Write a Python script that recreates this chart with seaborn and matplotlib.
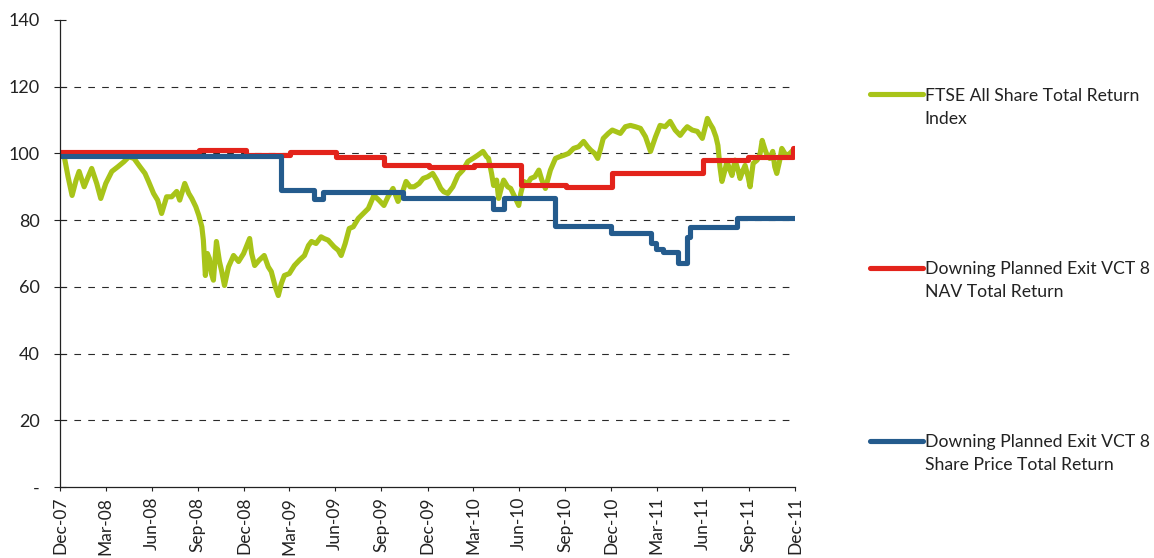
import numpy as np
import pandas as pd
import matplotlib
matplotlib.use("Agg")
import matplotlib.pyplot as plt
import matplotlib.dates as mdates
from matplotlib.lines import Line2D
from matplotlib.legend_handler import HandlerLine2D
import seaborn as sns

# days are counted from 31 Dec 2007 (rebased to 100)
START = pd.Timestamp("2007-12-31")

ftse_day = [
    0, 8, 16, 24, 32, 38, 48, 56, 63, 73,
    81, 91, 103, 115, 127, 137, 147, 159, 169, 176,
    186, 194, 202, 212, 222, 232, 238, 248, 256, 262,
    270, 276, 282, 285, 289, 293, 297, 301, 305, 311,
    317, 321, 327, 335, 345, 355, 365, 373, 377, 381,
    387, 396, 406, 414, 420, 428, 434, 440, 446, 456,
    466, 476, 486, 494, 500, 509, 519, 525, 533, 545,
    553, 559, 567, 575, 583, 593, 603, 613, 624, 634,
    644, 652, 662, 672, 680, 688, 696, 704, 714, 722,
    731, 741, 749, 757, 763, 771, 781, 791, 801, 811,
    821, 831, 841, 848, 852, 858, 862, 868, 872, 878,
    882, 890, 896, 904, 912, 916, 922, 930, 936, 944,
    952, 958, 965, 975, 985, 993, 1001, 1011, 1021, 1031,
    1041, 1049, 1055, 1063, 1069, 1074, 1080, 1090, 1098, 1106,
    1114, 1124, 1134, 1144, 1154, 1164, 1174, 1184, 1193, 1203,
    1213, 1223, 1233, 1241, 1247, 1257, 1267, 1277, 1283, 1287,
    1292, 1298, 1304, 1308, 1312, 1316, 1322, 1326, 1332, 1336,
    1342, 1348, 1352, 1358, 1362, 1368, 1372, 1378, 1386, 1392,
    1396, 1402, 1406, 1411, 1417, 1421, 1425, 1431, 1435, 1441,
    1445, 1451, 1457,
]
ftse_val = [
    99.8, 99.4, 93.0, 87.4, 92.0, 94.6, 90.0, 93.0, 95.5, 91.0,
    86.5, 91.0, 94.6, 96.0, 97.5, 99.0, 98.5, 96.0, 94.0, 91.6,
    88.0, 86.0, 82.0, 87.0, 87.0, 88.6, 86.0, 91.0, 88.0, 86.5,
    84.0, 81.4, 78.0, 74.0, 63.4, 70.0, 68.5, 64.0, 62.0, 73.6,
    67.6, 65.0, 60.4, 66.0, 69.4, 67.6, 70.0, 73.0, 74.5, 70.0,
    66.4, 68.0, 69.4, 66.0, 64.6, 60.0, 57.4, 61.0, 63.4, 64.0,
    66.4, 68.0, 69.4, 72.4, 73.6, 73.0, 75.0, 74.5, 74.0, 72.0,
    71.0, 69.4, 73.0, 77.5, 78.0, 80.5, 82.0, 83.5, 87.4, 86.0,
    84.4, 87.0, 89.5, 85.6, 88.0, 91.6, 90.0, 90.0, 91.0, 92.5,
    93.0, 94.0, 92.0, 89.5, 88.5, 88.0, 90.0, 93.4, 95.0, 97.6,
    98.5, 99.5, 100.6, 99.0, 98.5, 94.0, 90.4, 92.0, 86.5, 90.0,
    92.0, 90.0, 89.5, 87.0, 84.4, 88.0, 91.6, 91.0, 92.5, 93.0,
    95.0, 92.0, 89.5, 95.0, 98.5, 99.0, 99.4, 100.0, 101.5, 102.0,
    103.6, 102.0, 101.0, 100.0, 98.5, 101.0, 104.5, 106.0, 107.0, 106.5,
    106.0, 108.0, 108.4, 108.0, 107.5, 105.0, 100.6, 105.0, 108.4, 108.0,
    109.6, 107.0, 105.4, 107.0, 108.0, 107.0, 106.6, 104.5, 108.0, 110.5,
    109.0, 107.5, 105.0, 102.4, 96.0, 91.6, 95.0, 97.6, 95.0, 93.4,
    98.0, 95.0, 92.5, 95.0, 96.4, 93.0, 90.0, 97.0, 98.0, 100.0,
    103.9, 101.0, 99.4, 98.5, 100.6, 96.0, 94.0, 98.0, 101.5, 100.0,
    99.4, 100.0, 100.9,
]

nav_day = [0, 276, 370, 458, 549, 644, 733, 823, 916, 1005, 1098, 1279, 1368, 1458, 1461]
nav_val = [100.3, 101.0, 99.4, 100.4, 98.8, 96.6, 96.0, 96.6, 90.4, 89.9, 94.0, 97.9, 98.8, 101.5, 101.5]

price_day = [0, 440, 504, 523, 682, 860, 882, 985, 1096, 1174, 1184, 1199, 1229, 1247, 1253, 1346, 1461]
price_val = [99.3, 88.9, 86.3, 88.4, 86.5, 83.4, 86.5, 78.2, 76.1, 73.0, 71.4, 70.4, 67.1, 74.9, 77.9, 80.7, 80.7]

series_labels = [
    "FTSE All Share Total Return\nIndex",
    "Downing Planned Exit VCT 8\nNAV Total Return",
    "Downing Planned Exit VCT 8\nShare Price Total Return",
]
series_colors = ["#A8C419", "#E3231B", "#245B8D"]

y_ticks = [0, 20, 40, 60, 80, 100, 120, 140]
y_tick_labels = ["-", "20", "40", "60", "80", "100", "120", "140"]
grid_levels = [20, 40, 60, 80, 100, 120]


def to_dates(days):
    return START + pd.to_timedelta(days, unit="D")


class FirstLineHandler(HandlerLine2D):
    # put the legend swatch next to the first line of a two-line label
    def create_artists(self, legend, orig_handle, xdescent, ydescent,
                       width, height, fontsize, trans):
        arts = super().create_artists(legend, orig_handle, xdescent, ydescent,
                                      width, height, fontsize, trans)
        for a in arts:
            a.set_ydata(np.asarray(a.get_ydata()) + 0.74 * fontsize)
        return arts


sns.set_style("ticks")
plt.rcParams["font.family"] = ["Lato", "DejaVu Sans"]

fig = plt.figure(figsize=(11.54, 5.58), dpi=100)
ax = fig.add_axes([0.052, 0.1272, 0.6368, 0.8370])

for lvl in grid_levels:
    ax.axhline(lvl, color="#2a2a2a", lw=0.8, linestyle=(0, (6, 6.5)), zorder=0)

sns.lineplot(x=to_dates(ftse_day), y=ftse_val, ax=ax, color=series_colors[0],
             lw=3.7, label=series_labels[0])
sns.lineplot(x=to_dates(nav_day), y=nav_val, ax=ax, color=series_colors[1],
             lw=3.7, drawstyle="steps-post", label=series_labels[1])
sns.lineplot(x=to_dates(price_day), y=price_val, ax=ax, color=series_colors[2],
             lw=3.7, drawstyle="steps-post", label=series_labels[2])

ax.set_xlim(START, pd.Timestamp("2011-12-31"))
ax.set_ylim(0, 140)
ax.set_xlabel("")
ax.set_ylabel("")

quarters = pd.date_range("2007-12-31", "2011-12-31", freq="QE")
ax.set_xticks(quarters)
ax.xaxis.set_major_formatter(mdates.DateFormatter("%b-%y"))
ax.set_yticks(y_ticks)
ax.set_yticklabels(y_tick_labels)

for lab in ax.get_xticklabels():
    lab.set_rotation(90)
ax.tick_params(axis="x", direction="out", length=3, width=0.8, pad=4,
               labelsize=12.5, colors="#222222")
ax.tick_params(axis="y", direction="inout", length=9, width=0.8, pad=10,
               labelsize=13, colors="#222222")

sns.despine(ax=ax)
for side in ["left", "bottom"]:
    ax.spines[side].set_color("#222222")
    ax.spines[side].set_linewidth(0.9)

handles, labs = ax.get_legend_handles_labels()
if ax.get_legend() is not None:
    ax.get_legend().remove()
leg = fig.legend(handles, labs, loc="upper left",
                 bbox_to_anchor=(0.754, 0.843), frameon=False,
                 handlelength=3.0, handletextpad=0.1, labelspacing=7.6,
                 borderpad=0, borderaxespad=0, fontsize=12.7,
                 handler_map={Line2D: FirstLineHandler()})
for t in leg.get_texts():
    t.set_linespacing(1.55)
    t.set_color("#222222")

fig.savefig("out.png", dpi=100)
